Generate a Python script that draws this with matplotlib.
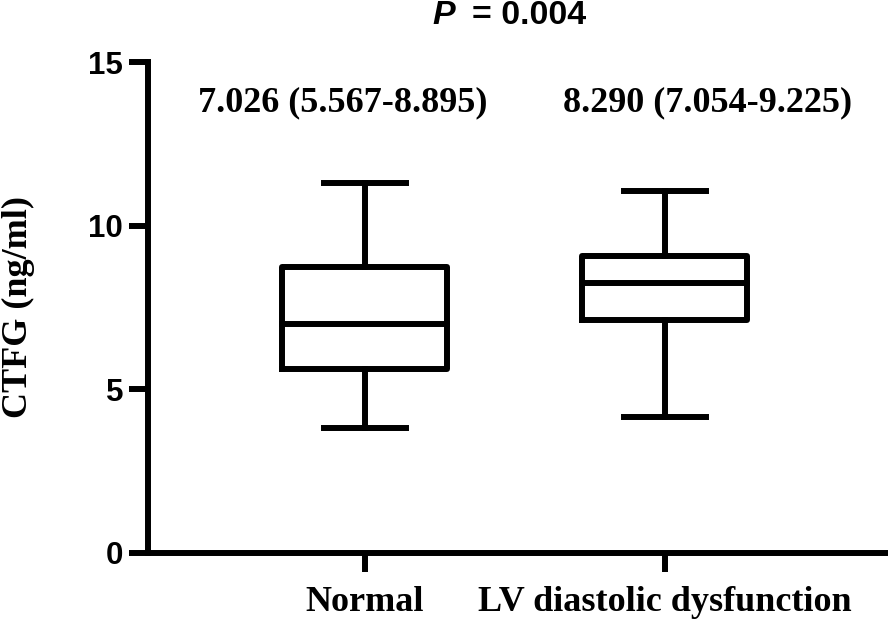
import matplotlib
matplotlib.use("Agg")
import matplotlib.pyplot as plt

# box values (ng/ml)
groups = ["Normal", "LV diastolic dysfunction"]
whislo = [3.82, 4.16]
q1 = [5.62, 7.12]
med = [7.00, 8.25]
q3 = [8.74, 9.07]
whishi = [11.30, 11.06]
summary = ["7.026 (5.567-8.895)", "8.290 (7.054-9.225)"]
p_text = "= 0.004"

lw = 4.3
serif = ["Liberation Serif", "DejaVu Serif"]
sans = ["Liberation Sans", "DejaVu Sans"]

fig = plt.figure(figsize=(8.88, 6.19), dpi=100)
ax = fig.add_axes([148/888, 1-553/619, (886-148)/888, (553-62)/619])

stats = []
for i in range(len(groups)):
    stats.append(dict(med=med[i], q1=q1[i], q3=q3[i], whislo=whislo[i],
                      whishi=whishi[i], fliers=[], label=groups[i]))

line = dict(color="black", linewidth=lw, solid_capstyle="projecting")
ax.bxp(stats, positions=[1, 2], widths=0.55, capwidths=0.275,
       showfliers=False, boxprops=dict(color="black", linewidth=lw),
       medianprops=line, whiskerprops=line, capprops=line)

ax.set_xlim(0.2767, 2.737)
ax.set_ylim(0, 15)
ax.set_yticks([0, 5, 10, 15])
ax.set_xticks([1, 2])
ax.set_xticklabels(groups, family=serif, fontweight="bold", fontsize=26)
for lab in ax.get_yticklabels():
    lab.set_family(sans)
    lab.set_fontweight("bold")
    lab.set_fontsize(22.5)

for s in ["top", "right"]:
    ax.spines[s].set_visible(False)
for s in ["left", "bottom"]:
    ax.spines[s].set_linewidth(lw)
    ax.spines[s].set_capstyle("projecting")
ax.tick_params(axis="both", width=lw, length=14, pad=4)
ax.tick_params(axis="x", pad=10)

ax.set_ylabel("CTFG (ng/ml)", family=serif, fontweight="bold", fontsize=26)
ax.yaxis.set_label_coords(-0.153, 0.50)

# median (IQR) above each box
ax.text(0.927, 13.75, summary[0], family=serif, fontweight="bold",
        fontsize=26, ha="center", va="center")
ax.text(2.143, 13.75, summary[1], family=serif, fontweight="bold",
        fontsize=26, ha="center", va="center")

fig.text(432/888, 1-16/619, "P", family=sans, fontweight="bold",
         fontstyle="italic", fontsize=24.5, ha="left", va="center")
fig.text(586/888, 1-16/619, p_text, family=sans, fontweight="bold",
         fontsize=24.5, ha="right", va="center")

fig.savefig("out.png", dpi=100)
